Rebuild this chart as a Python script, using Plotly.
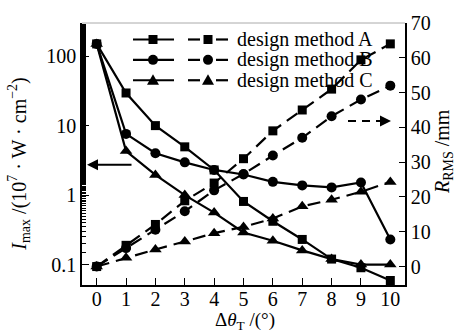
import plotly.graph_objects as go

# ---------------- data ----------------
theta = [0, 1, 2, 3, 4, 5, 6, 7, 8, 9, 10]

imax_A = [150, 29.5, 10, 4.95, 2.3, 0.81, 0.42, 0.23, 0.12, 0.09, 0.059]
imax_B = [150, 7.6, 4.0, 2.96, 2.3, 1.98, 1.55, 1.38, 1.29, 1.52, 0.23]
imax_C = [150, 4.3, 1.95, 1.0, 0.56, 0.29, 0.22, 0.16, 0.12, 0.10, 0.10]

rrms_A = [0, 6.1, 12.1, 18.9, 24, 31, 39, 45, 51, 59.4, 64]
rrms_B = [0, 5.3, 10.6, 15.9, 21.9, 26.6, 31.9, 37, 43.2, 48, 52]
rrms_C = [0, 2.5, 4.9, 7.2, 9.6, 11.4, 13.8, 17.3, 19.2, 21.5, 24.3]

methods = ["design method A", "design method B", "design method C"]
symbols = ["square", "circle", "triangle-up"]
sizes = [9, 10, 11]
x_ticks = theta
left_tickvals = [0.1, 1, 10, 100]
left_ticktext = ["0.1", "1", "10", "100"]
right_tickvals = [0, 10, 20, 30, 40, 50, 60, 70]

FONT = "Times New Roman, Liberation Serif, DejaVu Serif, serif"
FS = 20
FS_LEG = 20

fig = go.Figure()

imax_all = [imax_A, imax_B, imax_C]
rrms_all = [rrms_A, rrms_B, rrms_C]

for i in range(3):
    fig.add_trace(go.Scatter(
        x=theta, y=imax_all[i], mode="lines+markers", yaxis="y",
        line=dict(color="black", width=2.2),
        marker=dict(symbol=symbols[i], size=sizes[i], color="black"),
        showlegend=False, name=methods[i] + " Imax"))
    fig.add_trace(go.Scatter(
        x=theta, y=rrms_all[i], mode="lines+markers", yaxis="y2",
        line=dict(color="black", width=2.2, dash="13px,7px"),
        marker=dict(symbol=symbols[i], size=sizes[i], color="black"),
        showlegend=False, name=methods[i] + " RRMS"))

# ---------------- layout geometry ----------------
W, H = 457, 332
ML, MR, MT, MB = 82, 52, 15, 47
PW = W - ML - MR
PH = H - MT - MB


def px(xp):
    return (xp - ML) / PW


def py(yp):
    return (H - MB - yp) / PH


shapes = []
annotations = []

# top frame line (light)
shapes.append(dict(type="line", xref="paper", yref="paper", x0=0, x1=1, y0=1, y1=1,
                   line=dict(color="#aaaaaa", width=1)))

# legend
leg_rows = [32, 53, 74]
for i in range(3):
    yy = py(leg_rows[i])
    # solid sample
    shapes.append(dict(type="line", xref="paper", yref="paper",
                       x0=px(133), x1=px(174), y0=yy, y1=yy,
                       line=dict(color="black", width=2.2)))
    # dashed sample
    shapes.append(dict(type="line", xref="paper", yref="paper",
                       x0=px(188), x1=px(200), y0=yy, y1=yy,
                       line=dict(color="black", width=2.2)))
    shapes.append(dict(type="line", xref="paper", yref="paper",
                       x0=px(216), x1=px(228), y0=yy, y1=yy,
                       line=dict(color="black", width=2.2)))
    for cx in (153, 208):
        if symbols[i] == "square":
            shapes.append(dict(type="rect", xref="paper", yref="paper",
                               xsizemode="pixel", ysizemode="pixel",
                               xanchor=px(cx), yanchor=yy,
                               x0=-4.5, x1=4.5, y0=-4.5, y1=4.5,
                               fillcolor="black", line=dict(width=0)))
        elif symbols[i] == "circle":
            shapes.append(dict(type="circle", xref="paper", yref="paper",
                               xsizemode="pixel", ysizemode="pixel",
                               xanchor=px(cx), yanchor=yy,
                               x0=-5, x1=5, y0=-5, y1=5,
                               fillcolor="black", line=dict(width=0)))
        else:
            shapes.append(dict(type="path", xref="paper", yref="paper",
                               xsizemode="pixel", ysizemode="pixel",
                               xanchor=px(cx), yanchor=yy,
                               path="M -6 -4.5 L 6 -4.5 L 0 6 Z",
                               fillcolor="black", line=dict(width=0)))
    annotations.append(dict(text=methods[i], xref="paper", yref="paper",
                            x=px(235), y=yy, xanchor="left", yanchor="middle",
                            showarrow=False, font=dict(family=FONT, size=FS_LEG, color="black")))

# solid arrow pointing to left axis
annotations.append(dict(text="", xref="paper", yref="paper", x=px(87), y=py(161),
                        ax=46, ay=0, showarrow=True, arrowhead=2, arrowsize=1.1,
                        arrowwidth=2, arrowcolor="black"))
# dashed arrow pointing to right axis
shapes.append(dict(type="line", xref="paper", yref="paper",
                   x0=px(348), x1=px(380), y0=py(116), y1=py(116),
                   line=dict(color="black", width=2, dash="8px,6px")))
annotations.append(dict(text="", xref="paper", yref="paper", x=px(391), y=py(116),
                        ax=-8, ay=0, showarrow=True, arrowhead=2, arrowsize=1.1,
                        arrowwidth=2, arrowcolor="black"))

# axis titles
annotations.append(dict(text="<i>I</i><sub>max</sub> /(10<sup>7</sup> · W · cm<sup>−2</sup>)",
                        xref="paper", yref="paper", x=px(19), y=py(160),
                        xanchor="center", yanchor="middle", textangle=-90, showarrow=False,
                        font=dict(family=FONT, size=FS, color="black")))
annotations.append(dict(text="<i>R</i><sub>RMS</sub> /mm",
                        xref="paper", yref="paper", x=px(443), y=py(148),
                        xanchor="center", yanchor="middle", textangle=-90, showarrow=False,
                        font=dict(family=FONT, size=FS, color="black")))
annotations.append(dict(text="Δ<i>θ</i><sub>T</sub> /(°)",
                        xref="paper", yref="paper", x=px(245), y=py(322),
                        xanchor="center", yanchor="middle", showarrow=False,
                        font=dict(family=FONT, size=19, color="black")))

axis_common = dict(showgrid=False, zeroline=False, showline=True, linecolor="black",
                   linewidth=1.5, tickcolor="black", tickwidth=1.2,
                   tickfont=dict(family=FONT, size=FS, color="black"))

fig.update_layout(
    width=W, height=H,
    margin=dict(l=ML, r=MR, t=MT, b=MB),
    plot_bgcolor="white", paper_bgcolor="white",
    font=dict(family=FONT, size=FS, color="black"),
    xaxis=dict(range=[-0.5, 10.5], tickvals=x_ticks, ticks="inside", ticklen=7,
               ticklabelstandoff=-5, **axis_common),
    yaxis=dict(type="log", range=[-1.294, 2.477], tickvals=left_tickvals,
               ticktext=left_ticktext, ticks="inside", ticklen=7,
               minor=dict(ticks="inside", ticklen=4, tickcolor="black", showgrid=False),
               **axis_common),
    yaxis2=dict(overlaying="y", side="right", range=[-5.3, 70], tickvals=right_tickvals,
                ticks="inside", ticklen=6, **axis_common),
    shapes=shapes,
    annotations=annotations,
    showlegend=False,
)

fig.write_html("out.html")
